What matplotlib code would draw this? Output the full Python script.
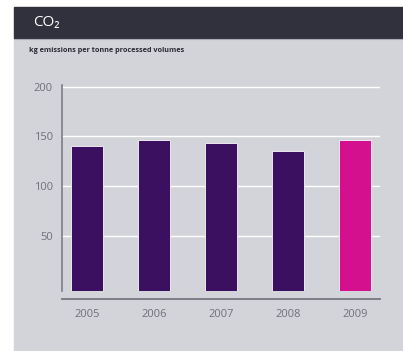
"""CO2 emissions per tonne processed volumes, 2005-2009 bar chart."""

import numpy as np
import matplotlib.pyplot as plt
from matplotlib.patches import Rectangle
from matplotlib.lines import Line2D

years = ["2005", "2006", "2007", "2008", "2009"]
co2_kg_per_tonne = [140, 146, 143, 135, 146]
y_ticks = [50, 100, 150, 200]
highlight_year = "2009"

PURPLE = "#3c1060"
MAGENTA = "#d5108f"
PANEL = "#d3d4d9"
HEADER = "#30313c"
TICK_GREY = "#6f7079"
SPINE_GREY = "#7d7e86"
Y_FLOOR = -5.3  # bars start a little below zero, at the axis floor

plt.rcParams["font.family"] = ["Open Sans", "DejaVu Sans"]

fig = plt.figure(figsize=(4.03, 3.51), dpi=100)
fig.patch.set_facecolor("white")

W, H = 403, 351
# gray panel and dark header band (figure coords), behind the axes
fig.patches.append(Rectangle((14 / W, 0), 1 - 14 / W, 1 - 38 / H,
                             transform=fig.transFigure, color=PANEL, zorder=-2))
fig.patches.append(Rectangle((14 / W, 1 - 38 / H), 1 - 14 / W, 31 / H,
                             transform=fig.transFigure, color=HEADER, zorder=-2))
fig.lines.append(Line2D([14 / W, 1], [1 - 38.5 / H] * 2, transform=fig.transFigure,
                        color="#a9aab1", lw=0.8, zorder=-1))

fig.text(33 / W, 1 - 22 / H, "CO₂", color="white", fontsize=11,
         va="center", ha="left")
fig.text(29 / W, 1 - 51 / H, "kg emissions per tonne processed volumes",
         color="#2a2a32", fontsize=5.2, fontweight="bold",
         va="center", ha="left")

ax = fig.add_axes([62 / W, 1 - 290.7 / H, (380 - 62) / W, (290.7 - 85) / H])
ax.set_facecolor("none")

x = np.arange(len(years))
vals = np.array(co2_kg_per_tonne, dtype=float)
colors = [MAGENTA if y == highlight_year else PURPLE for y in years]
ax.bar(x, vals - Y_FLOOR, bottom=Y_FLOOR, width=0.47, color=colors,
       edgecolor="#ede6f1", linewidth=0.7, zorder=3)

ax.set_xlim(-0.37, 4.37)
ax.set_ylim(Y_FLOOR, 201.7)
ax.set_yticks(y_ticks)
ax.set_xticks(x, years)
ax.grid(axis="y", color="white", lw=1.0, zorder=1)
ax.grid(axis="x", visible=False)

for s in ("top", "right"):
    ax.spines[s].set_visible(False)
ax.spines["left"].set_color(SPINE_GREY)
ax.spines["left"].set_linewidth(1.2)
ax.spines["bottom"].set_color(SPINE_GREY)
ax.spines["bottom"].set_linewidth(1.4)
ax.spines["bottom"].set_position(("outward", 6))
ax.spines["bottom"].set_bounds(-0.37, 4.37)

ax.tick_params(axis="both", length=0, colors=TICK_GREY, labelsize=8)
ax.tick_params(axis="y", pad=6.5)
ax.tick_params(axis="x", pad=7)

fig.savefig("out.png", dpi=100)
